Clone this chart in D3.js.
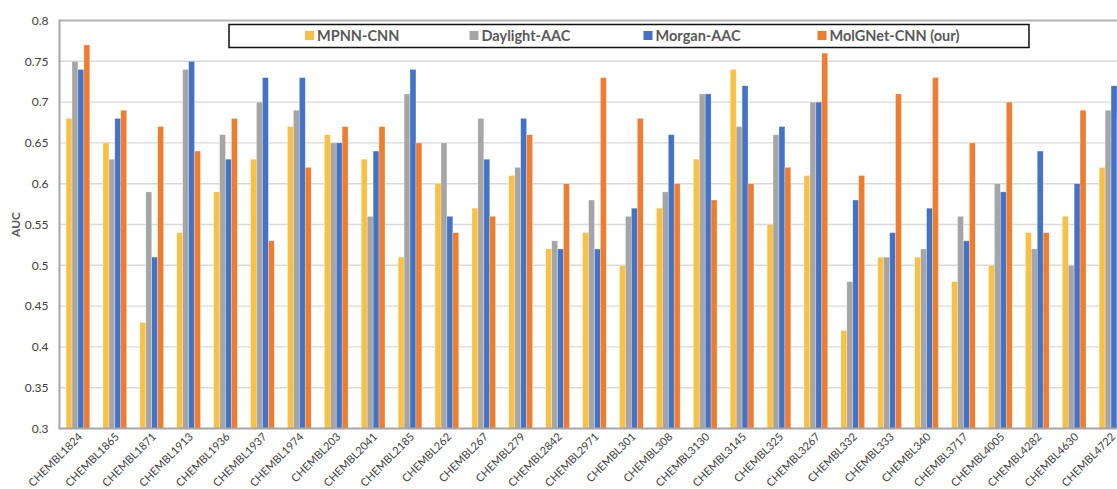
<!DOCTYPE html>
<html>
<head>
<meta charset="utf-8">
<script src="https://cdn.jsdelivr.net/npm/d3@7"></script>
<style>
  html, body { margin: 0; padding: 0; background: #fff; }
  svg { display: block; }
</style>
</head>
<body>
<svg id="chart" width="1117" height="489"></svg>
<script>
// Targets (ChEMBL assays) along the x axis
const categories = [
  "CHEMBL1824", "CHEMBL1865", "CHEMBL1871", "CHEMBL1913", "CHEMBL1936",
  "CHEMBL1937", "CHEMBL1974", "CHEMBL203", "CHEMBL2041", "CHEMBL2185",
  "CHEMBL262", "CHEMBL267", "CHEMBL279", "CHEMBL2842", "CHEMBL2971",
  "CHEMBL301", "CHEMBL308", "CHEMBL3130", "CHEMBL3145", "CHEMBL325",
  "CHEMBL3267", "CHEMBL332", "CHEMBL333", "CHEMBL340", "CHEMBL3717",
  "CHEMBL4005", "CHEMBL4282", "CHEMBL4630", "CHEMBL4722"
];

// AUC per model, one value per target
const mpnnCnn = [0.68, 0.65, 0.43, 0.54, 0.59, 0.63, 0.67, 0.66, 0.63, 0.51,
                 0.60, 0.57, 0.61, 0.52, 0.54, 0.50, 0.57, 0.63, 0.74, 0.55,
                 0.61, 0.42, 0.51, 0.51, 0.48, 0.50, 0.54, 0.56, 0.62];
const daylightAac = [0.75, 0.63, 0.59, 0.74, 0.66, 0.70, 0.69, 0.65, 0.56, 0.71,
                     0.65, 0.68, 0.62, 0.53, 0.58, 0.56, 0.59, 0.71, 0.67, 0.66,
                     0.70, 0.48, 0.51, 0.52, 0.56, 0.60, 0.52, 0.50, 0.69];
const morganAac = [0.74, 0.68, 0.51, 0.75, 0.63, 0.73, 0.73, 0.65, 0.64, 0.74,
                   0.56, 0.63, 0.68, 0.52, 0.52, 0.57, 0.66, 0.71, 0.72, 0.67,
                   0.70, 0.58, 0.54, 0.57, 0.53, 0.59, 0.64, 0.60, 0.72];
const molgnetCnn = [0.77, 0.69, 0.67, 0.64, 0.68, 0.53, 0.62, 0.67, 0.67, 0.65,
                    0.54, 0.56, 0.66, 0.60, 0.73, 0.68, 0.60, 0.58, 0.60, 0.62,
                    0.76, 0.61, 0.71, 0.73, 0.65, 0.70, 0.54, 0.69, 0.68];

const seriesNames = ["MPNN-CNN", "Daylight-AAC", "Morgan-AAC", "MolGNet-CNN (our)"];
const seriesColors = ["#F8C044", "#A5A5A5", "#4472C4", "#ED7D31"];
const yTicks = [0.3, 0.35, 0.4, 0.45, 0.5, 0.55, 0.6, 0.65, 0.7, 0.75, 0.8];

const seriesValues = [mpnnCnn, daylightAac, morganAac, molgnetCnn];

const svg = d3.select("#chart");
const plot = { left: 59.5, top: 20.5, bottom: 428.5, right: 1129.5 };

const x = d3.scaleBand()
  .domain(categories)
  .range([plot.left, plot.right])
  .paddingInner(0.358)
  .paddingOuter(0.179);

const xSub = d3.scaleBand()
  .domain(seriesNames)
  .range([0, x.bandwidth()]);

const y = d3.scaleLinear()
  .domain([0.3, 0.8])
  .range([plot.bottom, plot.top]);

// Horizontal gridlines
svg.append("g")
  .selectAll("line")
  .data(yTicks.slice(1))
  .join("line")
  .attr("x1", plot.left)
  .attr("x2", 1117)
  .attr("y1", d => y(d))
  .attr("y2", d => y(d))
  .attr("stroke", d => d === 0.8 ? "#b4b4b4" : "#d9d9d9")
  .attr("stroke-width", d => d === 0.8 ? 2 : 1.4);

// Bars
const rows = categories.map((c, i) => ({ cat: c, vals: seriesValues.map(s => s[i]) }));
const groups = svg.append("g")
  .selectAll("g")
  .data(rows)
  .join("g")
  .attr("transform", d => `translate(${x(d.cat)},0)`);

groups.selectAll("rect")
  .data(d => d.vals.map((v, k) => ({ name: seriesNames[k], v, color: seriesColors[k] })))
  .join("rect")
  .attr("x", d => xSub(d.name))
  .attr("width", xSub.bandwidth())
  .attr("y", d => y(d.v))
  .attr("height", d => y(0.3) - y(d.v))
  .attr("fill", d => d.color)
  .attr("stroke", "#ffffff")
  .attr("stroke-opacity", 0.45)
  .attr("stroke-width", 0.6);

// Axis lines
svg.append("line")
  .attr("x1", plot.left).attr("x2", plot.left)
  .attr("y1", plot.top - 1).attr("y2", plot.bottom + 1)
  .attr("stroke", "#a6a6a6").attr("stroke-width", 2);
svg.append("line")
  .attr("x1", plot.left).attr("x2", 1117)
  .attr("y1", plot.bottom).attr("y2", plot.bottom)
  .attr("stroke", "#a6a6a6").attr("stroke-width", 2);

// Y axis tick labels
const yAxis = d3.axisLeft(y)
  .tickValues(yTicks)
  .tickFormat(d => d3.format("")(+d.toFixed(2)))
  .tickSize(0)
  .tickPadding(11);
const yg = svg.append("g")
  .attr("transform", `translate(${plot.left},0)`)
  .call(yAxis);
yg.select(".domain").remove();
yg.selectAll("text")
  .attr("font-family", "Lato, 'Open Sans', sans-serif")
  .attr("font-size", 12)
  .attr("fill", "#404040");

// Y axis title
svg.append("text")
  .attr("transform", `translate(20,${(plot.top + plot.bottom) / 2}) rotate(-90)`)
  .attr("text-anchor", "middle")
  .attr("font-family", "Lato, 'Open Sans', sans-serif")
  .attr("font-size", 12)
  .attr("font-weight", "bold")
  .attr("fill", "#595959")
  .text("AUC");

// X axis category labels, rotated
const xAxis = d3.axisBottom(x).tickSize(0).tickPadding(0);
const xg = svg.append("g")
  .attr("transform", `translate(0,${plot.bottom})`)
  .call(xAxis);
xg.select(".domain").remove();
xg.selectAll("text")
  .attr("font-family", "Lato, 'Open Sans', sans-serif")
  .attr("font-size", 11)
  .attr("fill", "#404040")
  .attr("text-anchor", "end")
  .attr("dy", 0)
  .attr("y", 0)
  .attr("transform", "translate(5,9) rotate(-45)");

// Legend
const legend = svg.append("g");
legend.append("rect")
  .attr("x", 229).attr("y", 24.5)
  .attr("width", 800).attr("height", 23)
  .attr("fill", "#ffffff")
  .attr("stroke", "#111111")
  .attr("stroke-width", 1.5);

const legendX = [305, 469.5, 643.5, 817.5];
const items = legend.selectAll("g.item")
  .data(seriesNames)
  .join("g")
  .attr("class", "item")
  .attr("transform", (d, i) => `translate(${legendX[i]},31)`);
items.append("rect")
  .attr("width", 9).attr("height", 9)
  .attr("fill", (d, i) => seriesColors[i]);
items.append("text")
  .attr("x", 12)
  .attr("y", 9.5)
  .attr("font-family", "Lato, 'Open Sans', sans-serif")
  .attr("font-size", 14.5)
  .attr("font-weight", "bold")
  .attr("fill", "#595959")
  .text(d => d);
</script>
</body>
</html>
